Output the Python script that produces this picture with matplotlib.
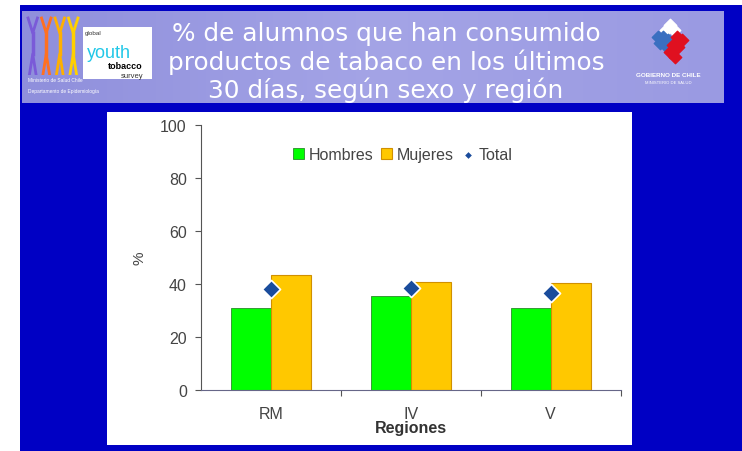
import matplotlib
matplotlib.use("Agg")
import matplotlib.pyplot as plt
from matplotlib.patches import Rectangle
import numpy as np

categories = ["RM", "IV", "V"]
hombres = [31.0, 35.3, 31.0]
mujeres = [43.3, 40.6, 40.2]
total = [38.0, 38.4, 36.6]
yticks = [0, 20, 40, 60, 80, 100]
title_lines = ["% de alumnos que han consumido",
               "productos de tabaco en los últimos",
               "30 días, según sexo y región"]

plt.rcParams['font.family'] = ['Liberation Sans', 'DejaVu Sans']

W, H = 742, 452
fig = plt.figure(figsize=(W / 100, H / 100), dpi=100)
fig.patch.set_facecolor("white")

def px(x0, y0, x1, y1):
    return [x0 / W, 1 - y1 / H, (x1 - x0) / W, (y1 - y0) / H]

# blue slide background
bg = fig.add_axes(px(20, 6, 742, 452))
bg.set_axis_off()
bg.add_patch(Rectangle((0, 0), 1, 1, transform=bg.transAxes, color="#0000c4"))

# banner
ban = fig.add_axes(px(22, 12, 724, 104))
ban.set_axis_off()
grad = np.linspace(0, 1, 256).reshape(1, -1)
ban.imshow(grad, aspect="auto", extent=(0, 1, 0, 1),
           cmap=matplotlib.colors.LinearSegmentedColormap.from_list(
               "b", ["#8f8fdc", "#a4a4e6", "#9a9ae2"]))
ban.set_xlim(0, 1); ban.set_ylim(0, 1)
for i, line in enumerate(title_lines):
    fig.text(386 / W, 1 - (34 + i * 28) / H, line, color="white",
             fontsize=17.8, ha="center", va="center", family="DejaVu Sans")

# left logo: stick figures
fg = fig.add_axes(px(26, 16, 80, 76))
fg.set_axis_off(); fg.set_xlim(0, 4); fg.set_ylim(0, 1)
for k, c in enumerate(["#7a5ad8", "#ff7020", "#ffb000", "#ffd000"]):
    cx = 0.5 + k * 1.0
    fg.plot([cx - 0.35, cx, cx + 0.35], [0.95, 0.7, 0.95], color=c, lw=2)
    fg.plot([cx, cx], [0.7, 0.35], color=c, lw=2.5)
    fg.plot([cx - 0.25, cx, cx + 0.25], [0.0, 0.35, 0.0], color=c, lw=2)
gy = fig.add_axes(px(83, 28, 152, 80))
gy.set_axis_off()
gy.add_patch(Rectangle((0, 0), 1, 1, transform=gy.transAxes, color="white"))
gy.text(0.02, 0.86, "global", fontsize=4.5, color="#333333", transform=gy.transAxes)
gy.text(0.05, 0.42, "youth", fontsize=13, color="#22c8e8", transform=gy.transAxes)
gy.text(0.36, 0.22, "tobacco", fontsize=6.5, color="black", weight="bold", transform=gy.transAxes)
gy.text(0.55, 0.03, "survey", fontsize=5.5, color="#333333", transform=gy.transAxes)
fig.text(28 / W, 1 - 82 / H, "Ministerio de Salud Chile", fontsize=3.5, color="white")
fig.text(28 / W, 1 - 93 / H, "Departamento de Epidemiología", fontsize=3.5, color="white")

# right logo
fig.text(668 / W, 1 - 77 / H, "GOBIERNO DE CHILE", fontsize=4.5, color="white",
         ha="center", weight="bold")
fig.text(668 / W, 1 - 84 / H, "MINISTERIO DE SALUD", fontsize=3, color="white", ha="center")
lg = fig.add_axes(px(640, 18, 700, 68))
lg.set_axis_off(); lg.set_xlim(0, 1); lg.set_ylim(0, 1)
lg.scatter([0.5, 0.44, 0.56], [0.85, 0.75, 0.75], marker="D", s=40, color="white")
lg.scatter([0.3, 0.38, 0.46, 0.34, 0.42], [0.6, 0.6, 0.55, 0.48, 0.45], marker="D", s=40, color="#3a6fc0")
lg.scatter([0.62, 0.7, 0.55, 0.64, 0.5, 0.58], [0.6, 0.55, 0.45, 0.4, 0.3, 0.2], marker="D", s=40, color="#e01020")

# white chart panel
wp = fig.add_axes(px(107, 113, 632, 446))
wp.set_axis_off()
wp.add_patch(Rectangle((0, 0), 1, 1, transform=wp.transAxes, color="white"))

# main chart
ax = fig.add_axes(px(200.7, 126, 620.7, 390.7))
ax.set_facecolor("none")
x = np.arange(len(categories))
w = 40 / 140
b1 = ax.bar(x - w / 2, hombres, w, color="#00ff00", edgecolor="#2a8a2a", linewidth=0.6,
            label="Hombres", zorder=2)
b2 = ax.bar(x + w / 2, mujeres, w, color="#ffc800", edgecolor="#d09000", linewidth=0.8,
            label="Mujeres", zorder=2)
sc = ax.scatter(x, total, marker="D", s=85, color="#1a4c9c", edgecolor="white",
                linewidth=1.2, zorder=3, label="Total")
ax.set_xlim(-0.5, 2.5)
ax.set_ylim(0, 100)
ax.set_yticks(yticks)
ax.set_xticks([0.5, 1.5, 2.5])
ax.set_xticklabels([])
ax.set_xticks(x, minor=True)
ax.set_xticklabels(categories, minor=True)
ax.tick_params(axis="x", which="minor", length=0, pad=12, labelsize=11.5, labelcolor="#444444")
ax.tick_params(axis="x", which="major", length=4, color="#555555")
ax.tick_params(axis="y", length=4, color="#555555", labelsize=11.5, labelcolor="#444444", pad=6)
for s in ["top", "right"]:
    ax.spines[s].set_visible(False)
ax.spines["left"].set_color("#555555")
ax.spines["bottom"].set_color("#666688")
ax.set_xlabel("Regiones", fontsize=11.5, weight="bold", color="#333333", labelpad=-1)
ax.set_ylabel("%", fontsize=11, color="#444444", labelpad=10)
leg = ax.legend([b1, b2, sc], ["Hombres", "Mujeres", "Total"],
                loc="upper center", bbox_to_anchor=(0.48, 0.97), ncol=3, frameon=False,
                fontsize=11.5, handlelength=0.7, handleheight=0.7, handletextpad=0.3,
                columnspacing=0.5, markerscale=0.5)
for t in leg.get_texts():
    t.set_color("#444444")

fig.savefig("out.png", dpi=100)
